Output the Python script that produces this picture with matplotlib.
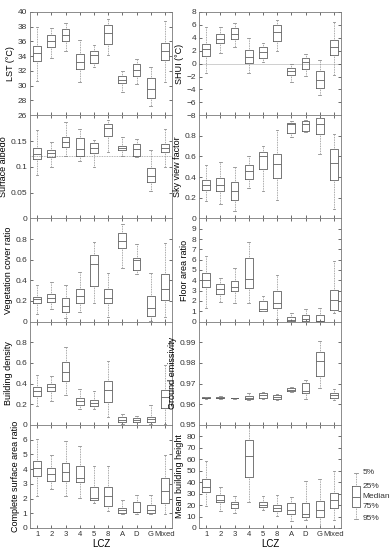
import matplotlib
matplotlib.use("Agg")
import matplotlib.pyplot as plt

plt.rcParams["font.family"] = ["Liberation Sans", "DejaVu Sans"]

lcz = ["1", "2", "3", "4", "5", "8", "A", "D", "G", "Mixed"]

# rows: upper whisker, upper quartile, median, lower quartile, lower whisker
lst = [
    [37.9, 37.8, 38.5, 36.2, 35.5, 39.1, 32.0, 33.6, 32.6, 38.8],
    [35.4, 36.85, 37.7, 34.3, 34.7, 38.3, 31.3, 32.9, 31.0, 35.8],
    [34.4, 36.0, 36.9, 33.2, 34.1, 37.2, 30.8, 32.1, 29.5, 34.7],
    [33.4, 35.3, 36.0, 32.2, 33.1, 35.7, 30.4, 31.3, 28.4, 33.5],
    [30.6, 33.75, 34.7, 30.5, 32.5, 34.2, 29.2, 30.2, 27.3, 30.5],
]
shui = [
    [5.7, 5.6, 6.3, 3.9, 3.2, 6.8, 0.0, 1.5, 0.55, 6.5],
    [3.1, 4.6, 5.5, 2.1, 2.5, 5.95, -0.7, 0.8, -1.2, 3.6],
    [2.2, 3.8, 4.6, 1.1, 1.85, 4.9, -1.2, 0.3, -2.6, 2.6],
    [1.2, 3.2, 3.8, 0.15, 0.9, 3.5, -1.7, -0.8, -3.75, 1.4],
    [-1.5, 1.6, 2.5, -1.5, 0.3, 2.0, -2.9, -1.9, -4.9, -1.75],
]
albedo = [
    [0.172, 0.149, 0.186, 0.174, 0.151, 0.190, 0.157, 0.153, 0.132, 0.173],
    [0.137, 0.132, 0.157, 0.155, 0.147, 0.182, 0.140, 0.144, 0.097, 0.145],
    [0.124, 0.126, 0.149, 0.134, 0.136, 0.176, 0.136, 0.134, 0.082, 0.137],
    [0.115, 0.119, 0.139, 0.120, 0.127, 0.159, 0.132, 0.120, 0.071, 0.128],
    [0.085, 0.100, 0.120, 0.112, 0.100, 0.128, 0.120, 0.119, 0.054, 0.099],
]
svf = [
    [0.52, 0.55, 0.50, 0.60, 0.70, 0.86, 0.94, 0.955, 0.975, 0.82],
    [0.374, 0.39, 0.35, 0.52, 0.64, 0.626, 0.925, 0.945, 0.97, 0.67],
    [0.32, 0.32, 0.27, 0.455, 0.60, 0.53, 0.915, 0.91, 0.915, 0.54],
    [0.277, 0.27, 0.18, 0.38, 0.48, 0.39, 0.83, 0.845, 0.815, 0.37],
    [0.165, 0.14, 0.07, 0.29, 0.27, 0.18, 0.79, 0.84, 0.626, 0.09],
]
veg = [
    [0.35, 0.385, 0.357, 0.48, 0.77, 0.47, 0.944, 0.754, 0.47, 0.757],
    [0.243, 0.266, 0.226, 0.318, 0.643, 0.318, 0.86, 0.616, 0.25, 0.46],
    [0.22, 0.233, 0.15, 0.252, 0.554, 0.226, 0.78, 0.593, 0.13, 0.318],
    [0.177, 0.19, 0.09, 0.177, 0.347, 0.183, 0.715, 0.50, 0.05, 0.213],
    [0.078, 0.12, 0.033, 0.095, 0.18, 0.04, 0.52, 0.46, 0.01, 0.04],
]
far = [
    [6.36, 4.25, 5.23, 7.7, 2.5, 4.48, 0.82, 1.23, 1.33, 5.88],
    [4.74, 3.6, 3.96, 6.2, 1.98, 2.99, 0.45, 0.67, 0.64, 3.08],
    [4.0, 3.15, 3.4, 4.12, 1.23, 1.85, 0.2, 0.26, 0.1, 2.05],
    [3.34, 2.7, 2.92, 3.28, 1.07, 1.33, 0.03, 0.02, 0.01, 1.14],
    [1.27, 1.88, 1.85, 1.82, 1.0, 0.3, 0.0, 0.0, 0.0, 0.85],
]
bd = [
    [0.48, 0.476, 0.75, 0.346, 0.327, 0.62, 0.104, 0.087, 0.19, 0.58],
    [0.37, 0.40, 0.61, 0.256, 0.243, 0.424, 0.071, 0.068, 0.078, 0.34],
    [0.327, 0.37, 0.515, 0.233, 0.21, 0.333, 0.045, 0.045, 0.055, 0.265],
    [0.28, 0.327, 0.42, 0.188, 0.178, 0.217, 0.023, 0.023, 0.03, 0.165],
    [0.18, 0.23, 0.29, 0.155, 0.152, 0.074, 0.003, 0.0, 0.006, 0.006],
]
emis = [
    [0.9637, 0.9638, 0.9632, 0.9653, 0.9661, 0.9648, 0.9684, 0.9719, 0.9908, 0.9673],
    [0.9634, 0.9635, 0.9630, 0.9639, 0.9655, 0.9642, 0.9676, 0.9703, 0.9852, 0.9653],
    [0.9631, 0.9632, 0.9629, 0.9631, 0.9645, 0.9634, 0.9671, 0.9666, 0.9808, 0.9644],
    [0.9628, 0.9629, 0.9628, 0.9624, 0.9632, 0.9627, 0.9665, 0.9656, 0.9735, 0.9632],
    [0.9625, 0.9625, 0.9626, 0.9619, 0.9627, 0.9621, 0.9661, 0.9624, 0.9676, 0.9619],
]
csar = [
    [6.03, 4.94, 5.89, 5.53, 4.2, 4.18, 1.87, 2.26, 2.23, 4.92],
    [4.54, 4.04, 4.42, 4.2, 2.75, 2.75, 1.35, 1.74, 1.53, 3.39],
    [4.04, 3.66, 3.79, 3.36, 2.03, 2.17, 1.2, 1.1, 1.22, 2.53],
    [3.54, 3.16, 3.18, 3.12, 1.9, 1.51, 1.04, 1.06, 1.04, 1.72],
    [2.14, 2.66, 2.19, 2.01, 1.67, 1.13, 0.97, 0.97, 0.97, 0.95],
]
mbh = [
    [58.7, 36.0, 28.2, 90.0, 27.6, 28.5, 27.3, 40.6, 42.6, 50.1],
    [42.9, 28.5, 22.7, 76.8, 22.4, 20.1, 21.9, 21.6, 23.9, 30.8],
    [36.0, 24.5, 21.0, 62.4, 20.4, 17.8, 16.1, 11.8, 15.5, 24.5],
    [31.4, 22.7, 17.6, 44.3, 18.1, 14.4, 11.8, 9.2, 9.2, 17.8],
    [19.3, 15.0, 13.5, 23.0, 15.3, 10.1, 6.3, 7.2, 0.3, 7.2],
]

# panels: (data, ylabel, ylim, yticks, ticklabels)
left_panels = [
    (lst, "LST (°C)", (26, 40), [26, 28, 30, 32, 34, 36, 38, 40], None),
    (albedo, "Surface albedo", (0, 0.2), [0, 0.05, 0.1, 0.15], ["0", "0.05", "0.1", "0.15"]),
    (veg, "Vegetation cover ratio", (0, 1), [0, 0.2, 0.4, 0.6, 0.8], ["0", "0.2", "0.4", "0.6", "0.8"]),
    (bd, "Building density", (0, 1), [0, 0.2, 0.4, 0.6, 0.8], ["0", "0.2", "0.4", "0.6", "0.8"]),
    (csar, "Complete surface area ratio", (0, 7), [0, 1, 2, 3, 4, 5, 6], None),
]
right_panels = [
    (shui, "SHUI (°C)", (-8, 8), [-8, -6, -4, -2, 0, 2, 4, 6, 8], None),
    (svf, "Sky view factor", (0, 1), [0, 0.2, 0.4, 0.6, 0.8], ["0", "0.2", "0.4", "0.6", "0.8"]),
    (far, "Floor area ratio", (0, 10), list(range(10)), None),
    (emis, "Ground emissivity", (0.95, 1.0), [0.95, 0.96, 0.97, 0.98, 0.99],
     ["0.95", "0.96", "0.97", "0.98", "0.99"]),
    (mbh, "Mean building height", (0, 90), [0, 10, 20, 30, 40, 50, 60, 70, 80], None),
]

# schematic key (label, drawn level)
key_labels = ["5%", "25%", "Median", "75%", "95%"]
key_levels = [0, 13, 24, 34, 46]

box_col = "#606060"
whisk_col = "#8c8c8c"
spine_col = "#7a7a7a"


def draw_boxes(ax, stats, positions, capw):
    ax.bxp(stats, positions=positions, widths=0.55, showfliers=False,
           boxprops=dict(color=box_col, linewidth=0.6),
           medianprops=dict(color=box_col, linewidth=0.6),
           whiskerprops=dict(color=whisk_col, linewidth=0.6, linestyle=(0, (1, 1))),
           capprops=dict(color=whisk_col, linewidth=0.6), capwidths=capw)


fig = plt.figure(figsize=(3.9, 5.5), dpi=100)
row_h = (528 - 12) / 5 / 550
lefts = [30 / 390, 199 / 390]
width = 142 / 390
positions = list(range(1, len(lcz) + 1))

for col, panels in enumerate([left_panels, right_panels]):
    for row, (data, ylabel, ylim, yticks, ylabels) in enumerate(panels):
        bottom = 1 - 12 / 550 - (row + 1) * row_h
        ax = fig.add_axes([lefts[col], bottom, width, row_h])
        stats = []
        for i in range(len(positions)):
            stats.append({"whishi": data[0][i], "q3": data[1][i], "med": data[2][i],
                          "q1": data[3][i], "whislo": data[4][i], "fliers": []})
        draw_boxes(ax, stats, positions, 0.18)
        ax.set_xlim(0.5, len(lcz) + 0.5)
        ax.set_ylim(*ylim)
        ax.set_yticks(yticks)
        if ylabels is not None:
            ax.set_yticklabels(ylabels)
        ax.set_ylabel(ylabel, fontsize=6.5, labelpad=2)
        ax.tick_params(direction="in", top=True, right=True, length=2, width=0.5,
                       labelsize=6, pad=2, colors="#333333")
        for s in ax.spines.values():
            s.set_color(spine_col)
            s.set_linewidth(0.6)
        ax.set_xticks(positions)
        if row == 4:
            ax.set_xticklabels(lcz)
            ax.tick_params(axis="x", labelsize=5.5)
            ax.set_xlabel("LCZ", fontsize=7, labelpad=1)
        else:
            ax.set_xticklabels([])
        if ylabel.startswith("SHUI"):
            ax.axhline(0, color="#c8c8c8", linewidth=0.6, zorder=0)
        if ylabel == "Surface albedo":
            ax.axhline(0.12, color="#9a9a9a", linewidth=0.6, linestyle=(0, (1, 1)), zorder=0)

# key
leg_stats = [{"whislo": key_levels[0], "q1": key_levels[1], "med": key_levels[2],
              "q3": key_levels[3], "whishi": key_levels[4], "fliers": []}]
lax = fig.add_axes([348 / 390, 1 - 521 / 550, 16 / 390, 50 / 550])
draw_boxes(lax, leg_stats, [1], 0.3)
lax.set_xlim(0.5, 1.5)
lax.set_ylim(48, -2)
lax.axis("off")
for v, t in zip(key_levels, key_labels):
    lax.text(1.42, v, t, fontsize=6, va="center", ha="left", color="#333333", clip_on=False)

fig.savefig("out.png", dpi=100)
